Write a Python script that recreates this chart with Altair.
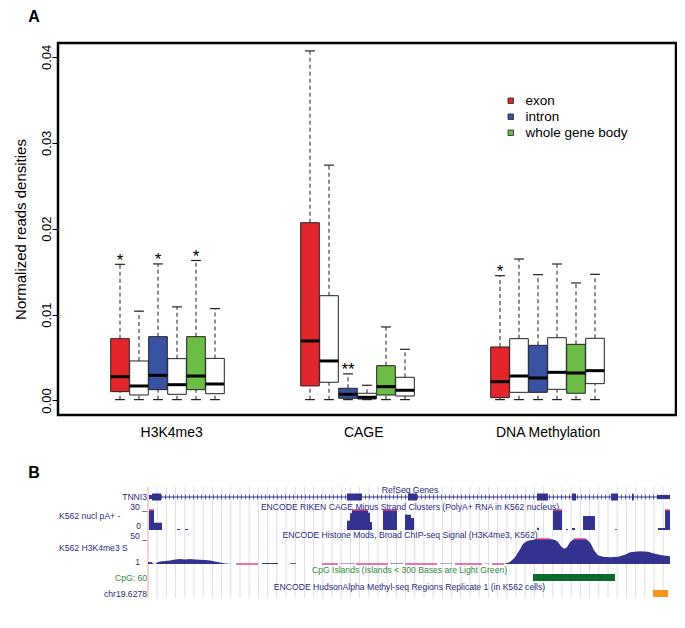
import altair as alt
import pandas as pd

FONT = "Liberation Sans"
NAVY = "#33338F"
NAVY_TXT = "#2B2B80"
PINK = "#E2488A"
GREEN_TXT = "#2E8B3A"

# ---------------- Panel A data ----------------
groups = ["H3K4me3", "CAGE", "DNA Methylation"]
group_label_pos = [3.72, 13.83, 23.53]
features = ["exon", "intron", "whole gene body"]
feature_colors = ["#E3262B", "#3953A4", "#6CBD45"]

box_pos = [1, 2, 3, 4, 5, 6, 11, 12, 13, 14, 15, 16, 21, 22, 23, 24, 25, 26]
box_feature = ["exon", "control", "intron", "control", "whole gene body", "control",
               "exon", "control", "intron", "control", "whole gene body", "control",
               "exon", "control", "intron", "control", "whole gene body", "control"]
lower = [0.0001, 0.0001, 0.0001, 0.0001, 0.0001, 0.0001,
         0.0001, 0.0001, 0.0001, 0.0001, 0.0001, 0.0001,
         0.0001, 0.0001, 0.0001, 0.0001, 0.0001, 0.0001]
q1 = [0.00103, 0.00064, 0.00126, 0.00072, 0.00126, 0.00079,
      0.00169, 0.00212, 0.00026, 0.00017, 0.00064, 0.00052,
      0.00033, 0.00095, 0.00095, 0.00130, 0.00084, 0.00196]
median = [0.00277, 0.00169, 0.00293, 0.00184, 0.00285, 0.00192,
          0.00693, 0.00460, 0.00072, 0.00037, 0.00161, 0.00119,
          0.00219, 0.00285, 0.00262, 0.00328, 0.00320, 0.00347]
q3 = [0.00720, 0.00460, 0.00743, 0.00487, 0.00743, 0.00490,
      0.02070, 0.01220, 0.00142, 0.00084, 0.00405, 0.00270,
      0.00623, 0.00720, 0.00642, 0.00731, 0.00654, 0.00724]
upper = [0.01585, 0.01040, 0.01590, 0.01090, 0.01630, 0.01070,
         0.04070, 0.02740, 0.00310, 0.00177, 0.00856, 0.00596,
         0.01453, 0.01647, 0.01465, 0.01589, 0.01368, 0.01469]

star_pos = [1, 3, 5, 13, 21]
star_text = ["*", "*", "*", "**", "*"]
y_ticks = [0.0, 0.01, 0.02, 0.03, 0.04]

# ---------------- Panel B data (relative bp in window) ----------------
gene_span = [10, 5220]
exon_start = [40, 1990, 2600, 3890, 4240, 4630, 4840]
exon_end = [130, 2140, 2690, 4000, 4280, 4700, 4855]
utr_start = [10, 5090]
utr_end = [40, 5220]

cage_start = [10, 60, 290, 370, 1990, 2020, 2040, 2200, 2220, 2350, 2570, 2630,
              3890, 4050, 4180, 4240, 4350, 4670, 5100, 5170]
cage_end = [60, 140, 320, 400, 2020, 2040, 2200, 2220, 2240, 2490, 2630, 2660,
            3910, 4140, 4200, 4270, 4470, 4690, 5170, 5220]
cage_val = [30, 11, 1.5, 1.5, 14, 25, 30, 26, 12, 30, 23, 18,
            3.5, 30, 1.5, 3, 21, 1, 3, 30]

h3_pos = [0, 40, 50, 80, 90, 120, 170, 220, 270, 320, 370, 420, 470, 520, 570, 620,
          670, 720, 770, 820, 840, 3560, 3570, 3620, 3670, 3720, 3750, 3790, 3840,
          3890, 4020, 4070, 4100, 4130, 4160, 4190, 4220, 4260, 4380, 4400, 4430,
          4460, 4500, 4550, 4620, 4700, 4770, 4820, 4920, 5000, 5070, 5140, 5220]
h3_val = [5, 4.5, 1.5, 1.5, 4, 6, 7, 8, 10, 11, 10, 11, 10, 9.5, 9, 8,
          6, 4, 2, 1.3, 1, 1, 1.5, 5, 14, 30, 40, 46, 48,
          50, 50, 48, 44, 36, 31, 34, 44, 50, 50, 47, 40,
          28, 18, 15, 14, 15, 19, 24, 26, 25, 21, 18, 16]
bump_start = [1140, 1420, 1920, 2420, 2920, 3360]
bump_end = [1300, 1480, 2070, 2550, 3040, 3420]
bump_val = [3, 2.5, 1.8, 2, 1.8, 1.5]
low_start = [880, 1740, 2080, 2570, 3070, 3440]
low_end = [1100, 1900, 2400, 2890, 3340, 3560]

cpg_start = [3850]
cpg_end = [4670]
methyl_start = [5050]
methyl_end = [5200]
grid_step = 92

# ---------------- Panel A ----------------
df = pd.DataFrame(dict(u=box_pos, feature=box_feature, lo=lower, q1=q1,
                       med=median, q3=q3, hi=upper))
hi_by_u = dict(zip(box_pos, upper))
stars = pd.DataFrame(dict(u=star_pos, t=star_text, y=[hi_by_u[p] for p in star_pos]))
glabels = pd.DataFrame(dict(g=groups, u=group_label_pos))

xA = alt.Scale(domain=[-2.263, 30.263], range=[0, 618], nice=False, zero=False)
yA = alt.Scale(domain=[-0.00169, 0.04162], range=[372, 0], nice=False, zero=False)

base = alt.Chart(df).transform_calculate(
    xl="datum.u - 0.49", xr="datum.u + 0.49",
    cl="datum.u - 0.26", cr="datum.u + 0.26")

yaxis = alt.Axis(values=y_ticks, format=".2f", title="Normalized reads densities",
                 domain=False, grid=False, ticks=True, tickSize=6, tickColor="black",
                 tickWidth=1, labelAngle=270, labelAlign="center",
                 labelBaseline="alphabetic", labelPadding=2, labelFont=FONT,
                 labelFontSize=13, labelColor="black", labelFlush=False,
                 labelOverlap=False, titleFont=FONT, titleFontSize=15,
                 titleFontWeight="normal", titleColor="black", titleX=-38,
                 titleY=186, titleAngle=270, titleBaseline="middle",
                 titleAlign="center")

whisk_up = base.mark_rule(color="#444", strokeWidth=1.2, strokeDash=[4, 3]).encode(
    x=alt.X("u:Q", scale=xA, axis=None),
    y=alt.Y("q3:Q", scale=yA, axis=yaxis), y2="hi:Q")
whisk_lo = base.mark_rule(color="#444", strokeWidth=1.2, strokeDash=[4, 3]).encode(
    x=alt.X("u:Q", scale=xA, axis=None),
    y=alt.Y("lo:Q", scale=yA, axis=None), y2="q1:Q")
cap_hi = base.mark_rule(color="#222", strokeWidth=1.2).encode(
    x=alt.X("cl:Q", scale=xA, axis=None), x2="cr:Q",
    y=alt.Y("hi:Q", scale=yA, axis=None))
cap_lo = base.mark_rule(color="#222", strokeWidth=1.2).encode(
    x=alt.X("cl:Q", scale=xA, axis=None), x2="cr:Q",
    y=alt.Y("lo:Q", scale=yA, axis=None))

boxes_col = base.transform_filter("datum.feature != 'control'").mark_rect(
    stroke="#222", strokeWidth=1).encode(
    x=alt.X("xl:Q", scale=xA, axis=None), x2="xr:Q",
    y=alt.Y("q1:Q", scale=yA, axis=None), y2="q3:Q",
    color=alt.Color("feature:N",
                    scale=alt.Scale(domain=features, range=feature_colors),
                    legend=alt.Legend(orient="none", legendX=446, legendY=51,
                                      title=None, symbolType="square",
                                      symbolSize=30, symbolStrokeColor="#222",
                                      symbolStrokeWidth=0.8, labelFont=FONT,
                                      labelFontSize=13.5, labelColor="black",
                                      labelOffset=8, rowPadding=1, padding=0)))
boxes_white = base.transform_filter("datum.feature == 'control'").mark_rect(
    fill="white", stroke="#222", strokeWidth=1).encode(
    x=alt.X("xl:Q", scale=xA, axis=None), x2="xr:Q",
    y=alt.Y("q1:Q", scale=yA, axis=None), y2="q3:Q")
medians = base.mark_rule(color="black", strokeWidth=3).encode(
    x=alt.X("xl:Q", scale=xA, axis=None), x2="xr:Q",
    y=alt.Y("med:Q", scale=yA, axis=None))

star_layer = alt.Chart(stars).mark_text(font=FONT, fontSize=17, baseline="alphabetic",
                                         dy=1.5, color="black").encode(
    x=alt.X("u:Q", scale=xA, axis=None),
    y=alt.Y("y:Q", scale=yA, axis=None), text="t:N")

glabel_layer = alt.Chart(glabels).mark_text(font=FONT, fontSize=14, baseline="middle",
                                             color="black").encode(
    x=alt.X("u:Q", scale=xA, axis=None), y=alt.value(390), text="g:N")

frame = alt.Chart(pd.DataFrame({"k": [0]})).mark_rect(
    fillOpacity=0, stroke="black", strokeWidth=2.5).encode(
    x=alt.value(0), x2=alt.value(618), y=alt.value(0), y2=alt.value(372))

panel_letters = alt.Chart(pd.DataFrame({"t": ["A", "B"], "px": [-24, -24],
                                        "py": [-21, 435]})).mark_text(
    font=FONT, fontSize=16, fontWeight="bold", baseline="alphabetic", color="black").encode(
    x=alt.X("px:Q", scale=None), y=alt.Y("py:Q", scale=None), text="t:N")

# ---------------- Panel B ----------------
xB = alt.Scale(domain=[0, 5220], range=[90, 612], nice=False, zero=False)
yC = alt.Scale(domain=[0, 30], range=[487, 467], nice=False, zero=False)
yH = alt.Scale(domain=[1, 50], range=[521, 496], nice=False, zero=False)

grid_df = pd.DataFrame({"pos": list(range(grid_step, 5220, grid_step))})
grid = alt.Chart(grid_df).mark_rule(color="#DCDDF0", strokeWidth=1).encode(
    x=alt.X("pos:Q", scale=xB, axis=None), y=alt.value(444), y2=alt.value(555))
redline = alt.Chart(pd.DataFrame({"pos": [0]})).mark_rule(color="#F2A3AA", strokeWidth=1).encode(
    x=alt.X("pos:Q", scale=xB, axis=None), y=alt.value(444), y2=alt.value(555))

gspan = pd.DataFrame({"s": [gene_span[0]], "e": [gene_span[1]]})
gene_line = alt.Chart(gspan).mark_rule(color=NAVY, strokeWidth=1).encode(
    x=alt.X("s:Q", scale=xB, axis=None), x2="e:Q", y=alt.value(454))
gene_hatch = alt.Chart(gspan).mark_rule(color=NAVY, strokeWidth=5, strokeDash=[1, 3],
                                        opacity=0.75).encode(
    x=alt.X("s:Q", scale=xB, axis=None), x2="e:Q", y=alt.value(454))
exons = alt.Chart(pd.DataFrame({"s": exon_start, "e": exon_end})).mark_rect(color=NAVY).encode(
    x=alt.X("s:Q", scale=xB, axis=None), x2="e:Q", y=alt.value(450.5), y2=alt.value(457.5))
utrs = alt.Chart(pd.DataFrame({"s": utr_start, "e": utr_end})).mark_rect(color=NAVY).encode(
    x=alt.X("s:Q", scale=xB, axis=None), x2="e:Q", y=alt.value(452), y2=alt.value(456))

cage_df = pd.DataFrame({"s": cage_start, "e": cage_end, "v": cage_val})
cage = alt.Chart(cage_df).transform_calculate(z="0").mark_rect(color=NAVY).encode(
    x=alt.X("s:Q", scale=xB, axis=None), x2="e:Q",
    y=alt.Y("v:Q", scale=yC, axis=None), y2="z:Q")
cage_clip = alt.Chart(cage_df).transform_filter("datum.v >= 30").mark_rule(
    color=PINK, strokeWidth=1.5).encode(
    x=alt.X("s:Q", scale=xB, axis=None), x2="e:Q",
    y=alt.Y("v:Q", scale=yC, axis=None))

h3_df = pd.DataFrame({"pos": h3_pos, "v": h3_val})
h3 = alt.Chart(h3_df).transform_calculate(b="1").mark_area(color=NAVY, interpolate="linear").encode(
    x=alt.X("pos:Q", scale=xB, axis=None),
    y=alt.Y("v:Q", scale=yH, axis=None), y2="b:Q")
bumps = alt.Chart(pd.DataFrame({"s": bump_start, "e": bump_end, "v": bump_val})).transform_calculate(
    b="1").mark_rect(color=NAVY).encode(
    x=alt.X("s:Q", scale=xB, axis=None), x2="e:Q",
    y=alt.Y("v:Q", scale=yH, axis=None), y2="b:Q")
lows = alt.Chart(pd.DataFrame({"s": low_start, "e": low_end})).transform_calculate(
    b="1").mark_rule(color=PINK, strokeWidth=1.5).encode(
    x=alt.X("s:Q", scale=xB, axis=None), x2="e:Q",
    y=alt.Y("b:Q", scale=yH, axis=None))
clip_s, clip_e = [], []
for i in range(len(h3_pos) - 1):
    if h3_val[i] >= 50 and h3_val[i + 1] >= 50:
        clip_s.append(h3_pos[i])
        clip_e.append(h3_pos[i + 1])
h3_clip = alt.Chart(pd.DataFrame({"s": clip_s, "e": clip_e})).transform_calculate(
    t="50").mark_rule(color=PINK, strokeWidth=1.5).encode(
    x=alt.X("s:Q", scale=xB, axis=None), x2="e:Q",
    y=alt.Y("t:Q", scale=yH, axis=None))

cpg = alt.Chart(pd.DataFrame({"s": cpg_start, "e": cpg_end})).mark_rect(color="#0B6B2E").encode(
    x=alt.X("s:Q", scale=xB, axis=None), x2="e:Q", y=alt.value(531), y2=alt.value(538))
methyl = alt.Chart(pd.DataFrame({"s": methyl_start, "e": methyl_end})).mark_rect(color="#F7941D").encode(
    x=alt.X("s:Q", scale=xB, axis=None), x2="e:Q", y=alt.value(547), y2=alt.value(554))

# browser texts
track_titles = ["RefSeq Genes",
                "ENCODE RIKEN CAGE Minus Strand Clusters (PolyA+ RNA in K562 nucleus)",
                "ENCODE Histone Mods, Broad ChIP-seq Signal (H3K4me3, K562)",
                "ENCODE HudsonAlpha Methyl-seq Regions Replicate 1 (in K562 cells)"]
cpg_title = ["CpG Islands (Islands < 300 Bases are Light Green)"]
right_labels = ["TNNI3", "30 _", "0", "50 _", "1", "chr19.6278"]
cpg_label = ["CpG: 60"]
left_labels = ["K562 nucl pA+ -", "K562 H3K4me3 S"]

def text_layer(texts, xs, ys, align, color):
    d = pd.DataFrame({"t": texts, "px": xs, "py": ys})
    return alt.Chart(d).mark_text(font=FONT, fontSize=8.6, align=align,
                                  baseline="middle", color=color).encode(
        x=alt.X("px:Q", scale=None), y=alt.Y("py:Q", scale=None), text="t:N")

t_titles = text_layer(track_titles, [352, 352, 352, 351.5], [447, 463.7, 492, 543.7],
                      "center", NAVY_TXT)
t_cpg = text_layer(cpg_title, [351.5], [527], "center", GREEN_TXT)
t_right = text_layer(right_labels, [89, 89, 83, 89, 82, 89],
                     [454, 464, 483, 493, 519, 551], "right", NAVY_TXT)
t_cpgl = text_layer(cpg_label, [89], [535], "right", GREEN_TXT)
t_left = text_layer(left_labels, [1, 1], [472.7, 504.7], "left", NAVY_TXT)

chart = alt.layer(
    frame, whisk_up, whisk_lo, cap_hi, cap_lo, boxes_col, boxes_white, medians,
    star_layer, glabel_layer, panel_letters,
    grid, redline, gene_line, gene_hatch, utrs, exons, cage, cage_clip,
    h3, bumps, lows, h3_clip, cpg, methyl,
    t_titles, t_cpg, t_right, t_cpgl, t_left
).resolve_scale(
    x="independent", y="independent", color="independent"
).properties(
    width=619, height=577,
    autosize=alt.AutoSizeParams(type="none"),
    padding={"left": 50, "top": 35, "right": 0, "bottom": 0}
).configure_view(strokeWidth=0)

chart.save("out.html", embed_options={"renderer": "svg", "actions": False})
